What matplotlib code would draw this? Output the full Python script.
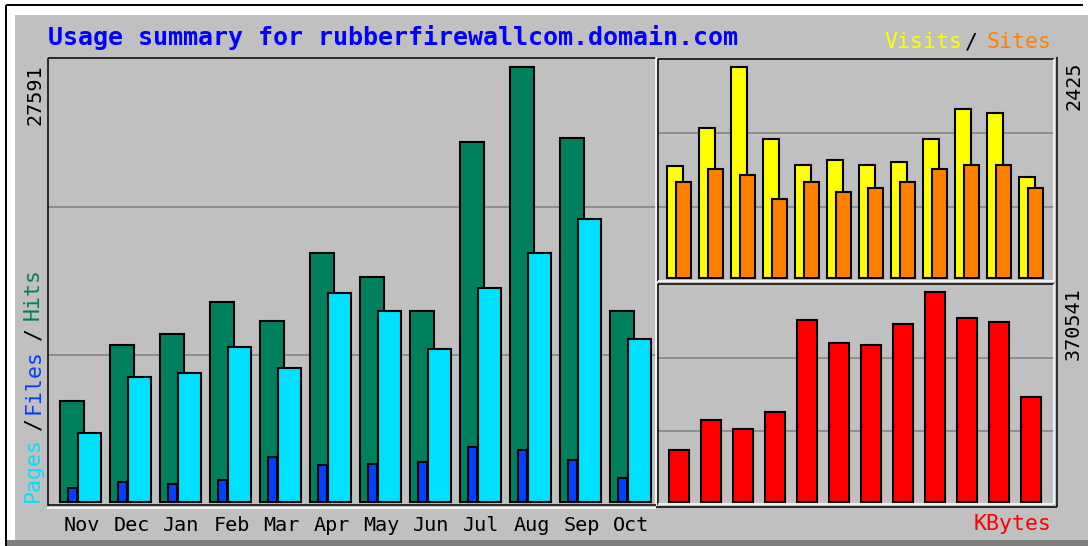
import matplotlib
matplotlib.use("Agg")
import matplotlib.pyplot as plt
from matplotlib.lines import Line2D
from matplotlib.patches import Rectangle

# ---------------- data ----------------
months = ["Nov", "Dec", "Jan", "Feb", "Mar", "Apr", "May", "Jun", "Jul", "Aug", "Sep", "Oct"]
hits = [6406, 9958, 10656, 12686, 11481, 15794, 14272, 12115, 22835, 27591, 23088, 12115]
files = [888, 1269, 1142, 1395, 2854, 2347, 2410, 2537, 3489, 3298, 2664, 1522]
pages = [4377, 7929, 8182, 9832, 8500, 13257, 12115, 9705, 13574, 15794, 17951, 10339]
visits = [1286, 1728, 2425, 1605, 1305, 1363, 1305, 1336, 1605, 1951, 1905, 1162]
sites = [1112, 1259, 1189, 916, 1112, 989, 1039, 1112, 1259, 1305, 1305, 1039]
kbytes = [91310, 143740, 128424, 159058, 321060, 279823, 276288, 313991, 370541, 325185, 318114, 185567]
title = "Usage summary for rubberfirewallcom.domain.com"

# ---------------- style ----------------
W, H = 1088, 546
GRAY = "#c0c0c0"
C_HITS, C_FILES, C_PAGES = "#00805c", "#0040ff", "#00e0ff"
C_VISITS, C_SITES, C_KB = "#ffff00", "#ff8000", "#ff0000"
GRID = "#808080"
MONO = "DejaVu Sans Mono"

fig = plt.figure(figsize=(W / 100, H / 100), dpi=100)
fig.patch.set_facecolor("white")


def fx(px):
    return px / W


def fy(py):
    return 1 - py / H


def fline(x0, y0, x1, y1, color, lw=1.1):
    fig.add_artist(Line2D([fx(x0), fx(x1)], [fy(y0), fy(y1)], transform=fig.transFigure,
                          color=color, lw=lw, solid_capstyle="butt", zorder=5))


# background panel
fig.add_artist(Rectangle((fx(15), fy(540)), fx(W) - fx(15), fy(15) - fy(540),
                         transform=fig.transFigure, facecolor=GRAY, edgecolor="none", zorder=-2))
fig.add_artist(Rectangle((fx(7), fy(546)), fx(W) - fx(7), fy(540) - fy(546),
                         transform=fig.transFigure, facecolor="#7f7f7f", edgecolor="none", zorder=-2))
fline(6, 5, 1083, 5, "black", 1.4)
fline(6, 5, 6, 546, "black", 1.4)


def make_ax(x0, y0, x1, y1):
    ax = fig.add_axes([fx(x0), fy(y1), fx(x1) - fx(x0), fy(y0) - fy(y1)])
    ax.set_facecolor(GRAY)
    for s in ax.spines.values():
        s.set_visible(False)
    ax.set_yticks([])
    return ax


def grids(ax, lo, hi):
    for k in (1, 2):
        ax.axhline(lo + (hi - lo) * k / 3, color=GRID, lw=1.1, zorder=1)


x = list(range(len(months)))
EDGE = dict(edgecolor="black", linewidth=1.5, zorder=3)

# ---------- left panel : hits / files / pages ----------
axL = make_ax(48, 58, 656, 504)
lo, hi = -127, 28163
axL.set_ylim(lo, hi)
axL.set_xlim(-0.24, 11.92)
grids(axL, lo, hi)
axL.bar(x, hits, width=0.48, align="edge", color=C_HITS, **EDGE)
axL.bar([i + 0.16 for i in x], files, width=0.18, align="edge", color=C_FILES, **EDGE)
axL.bar([i + 0.36 for i in x], pages, width=0.46, align="edge", color=C_PAGES, **EDGE)
axL.set_xticks([i + 0.43 for i in x])
axL.set_xticklabels(months, family=MONO, fontsize=14.5, color="black")
axL.tick_params(axis="x", length=0, pad=8.5)

# ---------- right top : visits / sites ----------
axT = make_ax(658, 59, 1054, 281)
lo, hi = -31, 2521
axT.set_ylim(lo, hi)
axT.set_xlim(-0.27, 12.105)
axT.set_xticks([])
grids(axT, lo, hi)
axT.bar(x, visits, width=0.5, align="edge", color=C_VISITS, **EDGE)
axT.bar([i + 0.29 for i in x], sites, width=0.46, align="edge", color=C_SITES, **EDGE)

# ---------- right bottom : kbytes ----------
axB = make_ax(658, 284, 1054, 505)
lo, hi = -5831, 384676
axB.set_ylim(lo, hi)
axB.set_xlim(-0.27, 12.105)
axB.set_xticks([])
grids(axB, lo, hi)
axB.bar([i + 0.07 for i in x], kbytes, width=0.62, align="edge", color=C_KB, **EDGE)

# ---------- panel frames ----------
fline(48, 58, 656, 58, "black")
fline(48, 58, 48, 506, "black")
fline(656, 57, 656, 506, "white")
fline(48, 505, 656, 505, "black")
fline(47, 508, 656, 508, "white")
fline(658, 59, 1054, 59, "black")
fline(658, 59, 658, 281, "black")
fline(1054, 59, 1054, 281, "white")
fline(658, 280.5, 1054, 280.5, "white")
fline(658, 284, 1054, 284, "black")
fline(658, 284, 658, 505, "black")
fline(1054, 284, 1054, 504, "white")
fline(658, 503.5, 1054, 503.5, "white")
fline(1056.5, 57, 1056.5, 507, "black")
fline(656, 506.5, 1057, 506.5, "black")

# ---------- texts ----------
fig.text(fx(48), fy(38), title, family=MONO, fontweight="bold", fontsize=18.0,
         color="#0000ff", ha="left", va="center")

fig.text(fx(923), fy(42), "Visits", family=MONO, fontsize=15.5, color=C_VISITS, ha="center", va="center")
fig.text(fx(971), fy(42), "/", family=MONO, fontsize=15.5, color="black", ha="center", va="center")
fig.text(fx(1019), fy(42), "Sites", family=MONO, fontsize=15.5, color=C_SITES, ha="center", va="center")

for word, col, yc in [("Pages", C_PAGES, 469), ("/", "black", 424), ("Files", C_FILES, 382),
                      ("/", "black", 334), ("Hits", C_HITS, 294)]:
    fig.text(fx(33), fy(yc), word, family=MONO, fontsize=15.5, color=col,
             rotation=90, ha="center", va="center")

fig.text(fx(1052), fy(524), "KBytes", family=MONO, fontsize=15.5, color=C_KB, ha="right", va="center")

fig.text(fx(35), fy(64), str(max(hits)), family=MONO, fontsize=14.5, color="black",
         rotation=90, ha="center", va="top")
fig.text(fx(1074), fy(62), str(max(visits)), family=MONO, fontsize=14.5, color="black",
         rotation=90, ha="center", va="top")
fig.text(fx(1073), fy(287), str(max(kbytes)), family=MONO, fontsize=14.5, color="black",
         rotation=90, ha="center", va="top")

fig.savefig("out.png", dpi=100, facecolor=fig.get_facecolor())
